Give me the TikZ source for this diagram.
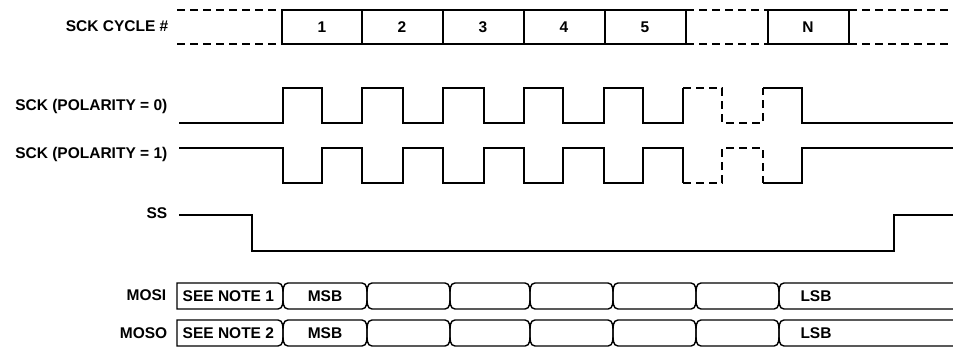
\documentclass[tikz,border=0pt]{standalone}
\usepackage{fontspec}
\setmainfont{Liberation Sans}
\begin{document}
\begin{tikzpicture}[x=1pt,y=-1pt,line width=1.4pt,
    every node/.style={font=\bfseries\fontsize{15.5}{18}\selectfont,inner sep=0pt,text height=11pt,text depth=0pt},
    gap/.style={dash pattern=on 8pt off 5pt}]
    \useasboundingbox (0,0) rectangle (953,348);
    % signal names
    \node[anchor=east] (cyc) at (169,26) {SCK CYCLE \#};
    \node[anchor=east] (sck0) at (168,105) {SCK (POLARITY = 0)};
    \node[anchor=east] (sck1) at (168,153) {SCK (POLARITY = 1)};
    \node[anchor=east] (ss) at (168,213) {SS};
    \node[anchor=east] (mosi) at (167,295) {MOSI};
    \node[anchor=east] (moso) at (168,333) {MOSO};
    % cycle numbers
    \draw[gap] (177,10) -- (282,10) (177,44) -- (282,44);
    \draw (282,10) rectangle (686,44);
    \draw (362,10) -- (362,44) (443,10) -- (443,44) (524,10) -- (524,44) (605,10) -- (605,44);
    \draw[gap] (686,10) -- (768,10) (686,44) -- (768,44);
    \draw (768,10) rectangle (849,44);
    \draw[gap] (849,10) -- (953,10) (849,44) -- (953,44);
    \node (c1) at (322,27) {1};
    \node (c2) at (402,27) {2};
    \node (c3) at (483,27) {3};
    \node (c4) at (564,27) {4};
    \node (c5) at (645,27) {5};
    \node (cN) at (808,27) {N};
    % clocks
    \draw (179,123) -| (283,88) -| (322,123) -| (362,88) -| (403,123) -| (443,88) -| (484,123)
        -| (524,88) -| (563,123) -| (604,88) -| (643,123) -| (683,88);
    \draw[gap] (683,88) -| (722,123) -| (763,88);
    \draw (763,88) -| (802,123) -- (953,123);
    \draw (179,148) -| (283,183) -| (322,148) -| (362,183) -| (403,148) -| (443,183) -| (484,148)
        -| (524,183) -| (563,148) -| (604,183) -| (643,148) -| (683,183);
    \draw[gap] (683,183) -| (722,148) -| (763,183);
    \draw (763,183) -| (802,148) -- (953,148);
    % select
    \draw (179,215) -| (252,251) -| (894,215) -- (953,215);
    % data
    \foreach \t in {283,320}{
        \draw (177,\t) -- (278,\t) to[out=0,in=90] (283,\t+13) to[out=-90,in=0] (278,\t+26) -- (177,\t+26) -- cycle;
        \foreach \a/\b in {283/367,367/450,450/530,530/613,613/696,696/779}
            \draw (\a+5,\t) -- (\b-5,\t) to[out=0,in=90] (\b,\t+13) to[out=-90,in=0] (\b-5,\t+26)
                -- (\a+5,\t+26) to[out=180,in=-90] (\a,\t+13) to[out=90,in=180] (\a+5,\t) -- cycle;
        \draw (953,\t) -- (784,\t) to[out=180,in=90] (779,\t+13) to[out=-90,in=180] (784,\t+26) -- (953,\t+26);
    }
    \node[anchor=west] (n1) at (182,296) {SEE NOTE 1};
    \node (msbi) at (325,296) {MSB};
    \node (lsbi) at (816,296) {LSB};
    \node[anchor=west] (n2) at (182,333) {SEE NOTE 2};
    \node (msbo) at (325,333) {MSB};
    \node (lsbo) at (816,333) {LSB};
\end{tikzpicture}
\end{document}
